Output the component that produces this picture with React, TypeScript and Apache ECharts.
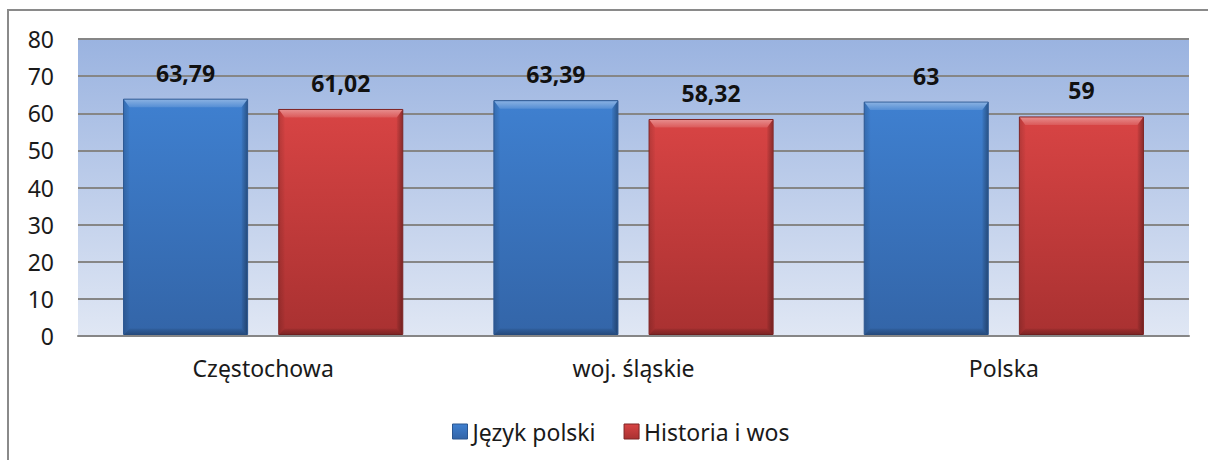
import React, { useEffect, useRef } from "react";
import * as echarts from "echarts";

const categories = ["Częstochowa", "woj. śląskie", "Polska"];
const jezykPolski = [63.79, 63.39, 63];
const historiaWos = [61.02, 58.32, 59];
const seriesNames = ["Język polski", "Historia i wos"];
const yMin = 0;
const yMax = 80;
const yInterval = 10;

const FONT = "'Noto Sans', 'DejaVu Sans', sans-serif";

const palettes = [
  { top: "#3f80d0", bottom: "#3365a8", outline: "#2b5690", legend: "#3b78c6" },
  { top: "#d84444", bottom: "#a93131", outline: "#7e2424", legend: "#cc3d3d" },
];

function fmt(v: number): string {
  return String(v).replace(".", ",");
}

const lg = (x0: number, y0: number, x1: number, y1: number, a: string, b: string) =>
  new echarts.graphic.LinearGradient(x0, y0, x1, y1, [
    { offset: 0, color: a },
    { offset: 1, color: b },
  ]);

function makeRender(seriesIdx: number) {
  return (params: any, api: any) => {
    const cat = api.value(0);
    const val = api.value(1);
    const band = api.size([1, 0])[0];
    const bw = band * 0.335;
    const gap = band * 0.084;
    const center = api.coord([cat, 0]);
    const topPt = api.coord([cat, val]);
    const cx =
      seriesIdx === 0 ? center[0] - gap / 2 - bw / 2 : center[0] + gap / 2 + bw / 2;
    const x0 = cx - bw / 2;
    const x1 = cx + bw / 2;
    const y0 = topPt[1];
    const y1 = center[1] - 1.5;
    const bt = 8;
    const b = 6;
    const p = palettes[seriesIdx];
    return {
      type: "group",
      children: [
        {
          type: "rect",
          shape: { x: x0, y: y0, width: bw, height: y1 - y0 },
          style: {
            fill: lg(0, 0, 0, 1, p.top, p.bottom),
            stroke: p.outline,
            lineWidth: 1,
          },
        },
        {
          type: "polygon",
          shape: { points: [[x0 + 0.5, y0 + 0.5], [x1 - 0.5, y0 + 0.5], [x1 - b, y0 + bt], [x0 + b, y0 + bt]] },
          style: { fill: lg(0, 0, 0, 1, "rgba(255,255,255,0.38)", "rgba(255,255,255,0.12)") },
        },
        {
          type: "polygon",
          shape: { points: [[x0 + 0.5, y0 + 0.5], [x0 + b, y0 + bt], [x0 + b, y1 - b], [x0 + 0.5, y1]] },
          style: { fill: lg(0, 0, 1, 0, "rgba(0,0,0,0.14)", "rgba(0,0,0,0.02)") },
        },
        {
          type: "polygon",
          shape: { points: [[x1 - 0.5, y0 + 0.5], [x1 - 0.5, y1], [x1 - b, y1 - b], [x1 - b, y0 + bt]] },
          style: { fill: lg(0, 0, 1, 0, "rgba(0,0,0,0.05)", "rgba(0,0,0,0.32)") },
        },
        {
          type: "polygon",
          shape: { points: [[x0 + 0.5, y1], [x0 + b, y1 - b], [x1 - b, y1 - b], [x1 - 0.5, y1]] },
          style: { fill: lg(0, 0, 0, 1, "rgba(0,0,0,0.06)", "rgba(0,0,0,0.26)") },
        },
        {
          type: "text",
          x: cx,
          y: y0 - 15,
          style: {
            text: fmt(val),
            align: "center",
            verticalAlign: "bottom",
            fontFamily: FONT,
            fontSize: 23,
            fontWeight: "bold",
            fill: "#111",
          },
        },
      ],
    };
  };
}

export default function App() {
  const ref = useRef<HTMLDivElement>(null);
  useEffect(() => {
    if (!ref.current) return;
    const chart = echarts.init(ref.current, null, { renderer: "svg" });
    const seriesData = [jezykPolski, historiaWos];
    chart.setOption({
      animation: false,
      backgroundColor: "#ffffff",
      textStyle: { fontFamily: FONT },
      graphic: [
        {
          type: "rect",
          shape: { x: 8, y: 10, width: 1300, height: 500 },
          style: { fill: "none", stroke: "#8a8a8a", lineWidth: 2 },
          silent: true,
          z: -10,
        },
      ],
      grid: {
        left: 78,
        right: 19,
        top: 39,
        bottom: 124,
        show: true,
        borderWidth: 0,
        backgroundColor: new echarts.graphic.LinearGradient(0, 0, 0, 1, [
          { offset: 0, color: "#9ab3e0" },
          { offset: 1, color: "#e0e7f4" },
        ]),
      },
      legend: {
        left: 447,
        top: 415,
        itemWidth: 15,
        itemHeight: 15,
        itemGap: 28,
        textStyle: { fontFamily: FONT, fontSize: 23, color: "#1a1a1a" },
        data: seriesNames.map((n, i) => ({
          name: n,
          icon: "rect",
          itemStyle: {
            color: lg(0, 0, 0, 1, palettes[i].top, palettes[i].bottom),
            borderColor: palettes[i].outline,
            borderWidth: 1,
          },
        })),
      },
      xAxis: {
        type: "category",
        data: categories,
        axisLine: { show: true, lineStyle: { color: "#868686", width: 2 } },
        axisTick: { show: false },
        axisLabel: { fontFamily: FONT, fontSize: 23, color: "#1a1a1a", margin: 20 },
        splitLine: { show: false },
      },
      yAxis: {
        type: "value",
        min: yMin,
        max: yMax,
        interval: yInterval,
        axisLine: { show: false },
        axisTick: { show: false },
        axisLabel: { fontFamily: FONT, fontSize: 23, color: "#1a1a1a", margin: 24 },
        splitLine: { show: true, lineStyle: { color: "#868686", width: 2 } },
      },
      series: seriesNames.map((name, si) => ({
        type: "custom",
        name,
        itemStyle: { color: palettes[si].legend },
        encode: { x: 0, y: 1 },
        data: categories.map((_, i) => [i, seriesData[si][i]]),
        renderItem: makeRender(si),
        z: 3,
      })),
    });
    return () => chart.dispose();
  }, []);
  return (
    <div
      ref={ref}
      style={{ position: "absolute", left: 0, top: 0, width: 1208, height: 460 }}
    />
  );
}
